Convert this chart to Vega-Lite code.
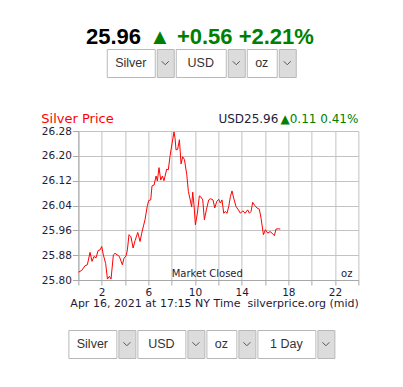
{
"$schema": "https://vega.github.io/schema/vega-lite/v6.json",
"padding": 0,
"background": "#ffffff",
"spacing": 35,
"center": true,
"config": {"view": {"stroke": null}, "concat": {"spacing": 0}},
"datasets": {
"price": [
{"hour":0.00,"price":25.825},{"hour":0.29,"price":25.831},{"hour":0.57,"price":25.846},{"hour":0.77,"price":25.849},{"hour":1.00,"price":25.889},{"hour":1.17,"price":25.860},{"hour":1.34,"price":25.876},{"hour":1.51,"price":25.871},{"hour":1.69,"price":25.895},{"hour":1.86,"price":25.897},{"hour":2.00,"price":25.908},{"hour":2.14,"price":25.881},{"hour":2.34,"price":25.853},{"hour":2.49,"price":25.803},{"hour":2.66,"price":25.812},{"hour":2.80,"price":25.803},{"hour":3.00,"price":25.881},{"hour":3.14,"price":25.886},{"hour":3.51,"price":25.876},{"hour":3.77,"price":25.849},{"hour":3.91,"price":25.870},{"hour":4.09,"price":25.878},{"hour":4.20,"price":25.897},{"hour":4.34,"price":25.946},{"hour":4.51,"price":25.939},{"hour":4.69,"price":25.903},{"hour":4.86,"price":25.927},{"hour":5.09,"price":25.953},{"hour":5.29,"price":25.924},{"hour":5.43,"price":25.951},{"hour":5.71,"price":25.994},{"hour":5.91,"price":26.039},{"hour":6.03,"price":26.056},{"hour":6.20,"price":26.058},{"hour":6.31,"price":26.103},{"hour":6.49,"price":26.106},{"hour":6.66,"price":26.135},{"hour":6.77,"price":26.119},{"hour":6.91,"price":26.162},{"hour":7.06,"price":26.122},{"hour":7.20,"price":26.135},{"hour":7.34,"price":26.120},{"hour":7.57,"price":26.157},{"hour":7.71,"price":26.155},{"hour":7.86,"price":26.200},{"hour":8.03,"price":26.240},{"hour":8.20,"price":26.277},{"hour":8.29,"price":26.256},{"hour":8.37,"price":26.219},{"hour":8.51,"price":26.221},{"hour":8.66,"price":26.252},{"hour":8.80,"price":26.174},{"hour":8.94,"price":26.197},{"hour":9.09,"price":26.188},{"hour":9.29,"price":26.140},{"hour":9.43,"price":26.085},{"hour":9.57,"price":26.061},{"hour":9.71,"price":26.035},{"hour":9.80,"price":26.083},{"hour":9.91,"price":26.042},{"hour":10.03,"price":25.978},{"hour":10.20,"price":26.015},{"hour":10.37,"price":26.071},{"hour":10.51,"price":26.067},{"hour":10.66,"price":26.058},{"hour":10.80,"price":25.994},{"hour":10.97,"price":26.026},{"hour":11.17,"price":26.058},{"hour":11.31,"price":26.062},{"hour":11.54,"price":26.058},{"hour":11.69,"price":26.032},{"hour":11.86,"price":26.053},{"hour":12.03,"price":26.060},{"hour":12.17,"price":26.048},{"hour":12.31,"price":26.058},{"hour":12.46,"price":26.015},{"hour":12.60,"price":26.021},{"hour":12.74,"price":26.015},{"hour":12.89,"price":26.037},{"hour":13.03,"price":26.069},{"hour":13.17,"price":26.087},{"hour":13.31,"price":26.064},{"hour":13.51,"price":26.037},{"hour":13.71,"price":26.026},{"hour":13.89,"price":26.015},{"hour":14.09,"price":26.023},{"hour":14.29,"price":26.015},{"hour":14.51,"price":26.026},{"hour":14.66,"price":26.015},{"hour":14.80,"price":26.021},{"hour":14.94,"price":26.050},{"hour":15.14,"price":26.039},{"hour":15.31,"price":26.032},{"hour":15.51,"price":26.028},{"hour":15.66,"price":25.999},{"hour":15.86,"price":25.946},{"hour":16.03,"price":25.962},{"hour":16.23,"price":25.951},{"hour":16.43,"price":25.956},{"hour":16.60,"price":25.951},{"hour":16.80,"price":25.943},{"hour":16.94,"price":25.964},{"hour":17.14,"price":25.965},{"hour":17.31,"price":25.964}
]
},
"vconcat": [
{
 "spacing": 0, "center": true,
 "vconcat": [
  {
   "width": 403, "height": 48,
   "data": {"values": [{"price": "25.96", "move": "▲ +0.56 +2.21%"}]},
   "layer": [
    {"mark": {"type": "text", "font": "Liberation Sans", "fontWeight": "bold", "fontSize": 22, "color": "#000000", "align": "right", "baseline": "alphabetic", "dx": -60.5, "dy": 20}, "encoding": {"text": {"field": "price"}}},
    {"mark": {"type": "text", "font": "Liberation Sans", "fontWeight": "bold", "fontSize": 22, "color": "#008000", "align": "left", "baseline": "alphabetic", "dx": -52.5, "dy": 20}, "encoding": {"text": {"field": "move"}}}
   ]
  },
  {
   "spacing": 0,
   "hconcat": [
    {"spacing": 0, "hconcat": [
     {"width": 48, "height": 28, "view": {"fill": "#ffffff", "stroke": "#b8b8b8"}, "data": {"values": [{"label": "Silver"}]}, "mark": {"type": "text", "font": "Liberation Sans", "fontSize": 12.5, "color": "#333333"}, "encoding": {"text": {"field": "label"}}},
     {"width": 17, "height": 28, "view": {"fill": "#dcdcdc", "stroke": "#b8b8b8"}, "data": {"values": [{"label": "Silver"}]}, "mark": {"type": "point", "shape": "M-1,-0.5L0,0.5L1,-0.5", "size": 49, "filled": false, "stroke": "#555555", "strokeWidth": 1, "opacity": 1}, "encoding": {}}
    ]},
    {"spacing": 0, "hconcat": [
     {"width": 50, "height": 28, "view": {"fill": "#ffffff", "stroke": "#b8b8b8"}, "data": {"values": [{"label": "USD"}]}, "mark": {"type": "text", "font": "Liberation Sans", "fontSize": 12.5, "color": "#333333"}, "encoding": {"text": {"field": "label"}}},
     {"width": 17, "height": 28, "view": {"fill": "#dcdcdc", "stroke": "#b8b8b8"}, "data": {"values": [{"label": "USD"}]}, "mark": {"type": "point", "shape": "M-1,-0.5L0,0.5L1,-0.5", "size": 49, "filled": false, "stroke": "#555555", "strokeWidth": 1, "opacity": 1}, "encoding": {}}
    ]},
    {"spacing": 0, "hconcat": [
     {"width": 30, "height": 28, "view": {"fill": "#ffffff", "stroke": "#b8b8b8"}, "data": {"values": [{"label": "oz"}]}, "mark": {"type": "text", "font": "Liberation Sans", "fontSize": 12.5, "color": "#333333"}, "encoding": {"text": {"field": "label"}}},
     {"width": 17, "height": 28, "view": {"fill": "#dcdcdc", "stroke": "#b8b8b8"}, "data": {"values": [{"label": "oz"}]}, "mark": {"type": "point", "shape": "M-1,-0.5L0,0.5L1,-0.5", "size": 49, "filled": false, "stroke": "#555555", "strokeWidth": 1, "opacity": 1}, "encoding": {}}
    ]}
   ]
  }
 ]
},
{
 "spacing": 20, "center": true,
 "vconcat": [
  {
   "width": 314, "height": 149,
   "title": {"text": "Silver Price", "anchor": "start", "frame": "bounds", "color": "#ff0000", "font": "DejaVu Sans", "fontSize": 13, "fontWeight": "normal", "offset": -13},
   "layer": [
    {
     "data": {"name": "price"},
     "mark": {"type": "line", "color": "#ff0000", "strokeWidth": 1, "clip": true},
     "encoding": {
      "x": {"field": "hour", "type": "quantitative", "scale": {"domain": [0, 24], "range": [34, 314], "nice": false, "zero": false},
       "axis": {"values": [0,2,4,6,8,10,12,14,16,18,20,22,24], "tickCount": 40, "format": "d", "labelExpr": "datum.value % 4 == 2 ? datum.label : ''", "grid": true, "gridColor": "#c3c3c3", "domainColor": "#a8a8a8", "tickColor": "#a8a8a8", "tickSize": 5, "labelFont": "DejaVu Sans", "labelFontSize": 10.5, "labelColor": "#1c1c3c", "labelPadding": 2, "labelFlush": false, "labelOverlap": false, "title": "Apr 16, 2021 at 17:15 NY Time\u00a0\u00a0silverprice.org (mid)", "titleFont": "DejaVu Sans", "titleFontSize": 11, "titleFontWeight": "normal", "titleColor": "#1c1c3c", "titleAnchor": "end", "titlePadding": 0}},
      "y": {"field": "price", "type": "quantitative", "scale": {"domain": [25.8, 26.28], "nice": false, "zero": false},
       "axis": {"values": [25.8,25.88,25.96,26.04,26.12,26.2,26.28], "tickCount": 40, "format": ".2f", "offset": -34, "grid": true, "gridColor": "#c3c3c3", "domainColor": "#a8a8a8", "tickColor": "#a8a8a8", "tickSize": 6, "labelFont": "DejaVu Sans", "labelFontSize": 10.5, "labelColor": "#1c1c3c", "labelPadding": 1, "labelFlush": false, "labelOverlap": false, "title": null}}
     }
    },
    {
     "data": {"values": [{"note": "Market Closed"}]},
     "mark": {"type": "text", "font": "DejaVu Sans", "fontSize": 10, "color": "#1c1c3c", "baseline": "alphabetic", "dy": -3},
     "encoding": {"x": {"datum": 11.05, "type": "quantitative"}, "y": {"datum": 25.8, "type": "quantitative"}, "text": {"field": "note"}}
    },
    {
     "data": {"values": [{"note": "oz"}]},
     "mark": {"type": "text", "font": "DejaVu Sans", "fontSize": 10, "color": "#1c1c3c", "baseline": "alphabetic", "dy": -3},
     "encoding": {"x": {"datum": 23.0, "type": "quantitative"}, "y": {"datum": 25.8, "type": "quantitative"}, "text": {"field": "note"}}
    },
    {
     "data": {"values": [{"quote": "USD25.96", "move": "▲0.11 0.41%"}]},
     "mark": {"type": "text", "font": "DejaVu Sans", "fontSize": 12, "color": "#008000", "align": "right", "baseline": "alphabetic", "dy": -8},
     "encoding": {"x": {"datum": 24, "type": "quantitative"}, "y": {"datum": 26.28, "type": "quantitative"}, "text": {"field": "move"}}
    },
    {
     "data": {"values": [{"quote": "USD25.96", "move": "▲0.11 0.41%"}]},
     "mark": {"type": "text", "font": "DejaVu Sans", "fontSize": 12, "color": "#1c1c3c", "align": "right", "baseline": "alphabetic", "dy": -8, "dx": -80},
     "encoding": {"x": {"datum": 24, "type": "quantitative"}, "y": {"datum": 26.28, "type": "quantitative"}, "text": {"field": "quote"}}
    }
   ]
  },
  {
   "spacing": 0,
   "hconcat": [
    {"spacing": 0, "hconcat": [
     {"width": 48, "height": 28, "view": {"fill": "#ffffff", "stroke": "#b8b8b8"}, "data": {"values": [{"label": "Silver"}]}, "mark": {"type": "text", "font": "Liberation Sans", "fontSize": 12.5, "color": "#333333"}, "encoding": {"text": {"field": "label"}}},
     {"width": 17, "height": 28, "view": {"fill": "#dcdcdc", "stroke": "#b8b8b8"}, "data": {"values": [{"label": "Silver"}]}, "mark": {"type": "point", "shape": "M-1,-0.5L0,0.5L1,-0.5", "size": 49, "filled": false, "stroke": "#555555", "strokeWidth": 1, "opacity": 1}, "encoding": {}}
    ]},
    {"spacing": 0, "hconcat": [
     {"width": 48, "height": 28, "view": {"fill": "#ffffff", "stroke": "#b8b8b8"}, "data": {"values": [{"label": "USD"}]}, "mark": {"type": "text", "font": "Liberation Sans", "fontSize": 12.5, "color": "#333333"}, "encoding": {"text": {"field": "label"}}},
     {"width": 17, "height": 28, "view": {"fill": "#dcdcdc", "stroke": "#b8b8b8"}, "data": {"values": [{"label": "USD"}]}, "mark": {"type": "point", "shape": "M-1,-0.5L0,0.5L1,-0.5", "size": 49, "filled": false, "stroke": "#555555", "strokeWidth": 1, "opacity": 1}, "encoding": {}}
    ]},
    {"spacing": 0, "hconcat": [
     {"width": 30, "height": 28, "view": {"fill": "#ffffff", "stroke": "#b8b8b8"}, "data": {"values": [{"label": "oz"}]}, "mark": {"type": "text", "font": "Liberation Sans", "fontSize": 12.5, "color": "#333333"}, "encoding": {"text": {"field": "label"}}},
     {"width": 17, "height": 28, "view": {"fill": "#dcdcdc", "stroke": "#b8b8b8"}, "data": {"values": [{"label": "oz"}]}, "mark": {"type": "point", "shape": "M-1,-0.5L0,0.5L1,-0.5", "size": 49, "filled": false, "stroke": "#555555", "strokeWidth": 1, "opacity": 1}, "encoding": {}}
    ]},
    {"spacing": 0, "hconcat": [
     {"width": 58, "height": 28, "view": {"fill": "#ffffff", "stroke": "#b8b8b8"}, "data": {"values": [{"label": "1 Day"}]}, "mark": {"type": "text", "font": "Liberation Sans", "fontSize": 12.5, "color": "#333333"}, "encoding": {"text": {"field": "label"}}},
     {"width": 17, "height": 28, "view": {"fill": "#dcdcdc", "stroke": "#b8b8b8"}, "data": {"values": [{"label": "1 Day"}]}, "mark": {"type": "point", "shape": "M-1,-0.5L0,0.5L1,-0.5", "size": 49, "filled": false, "stroke": "#555555", "strokeWidth": 1, "opacity": 1}, "encoding": {}}
    ]}
   ]
  }
 ]
}
]
}
